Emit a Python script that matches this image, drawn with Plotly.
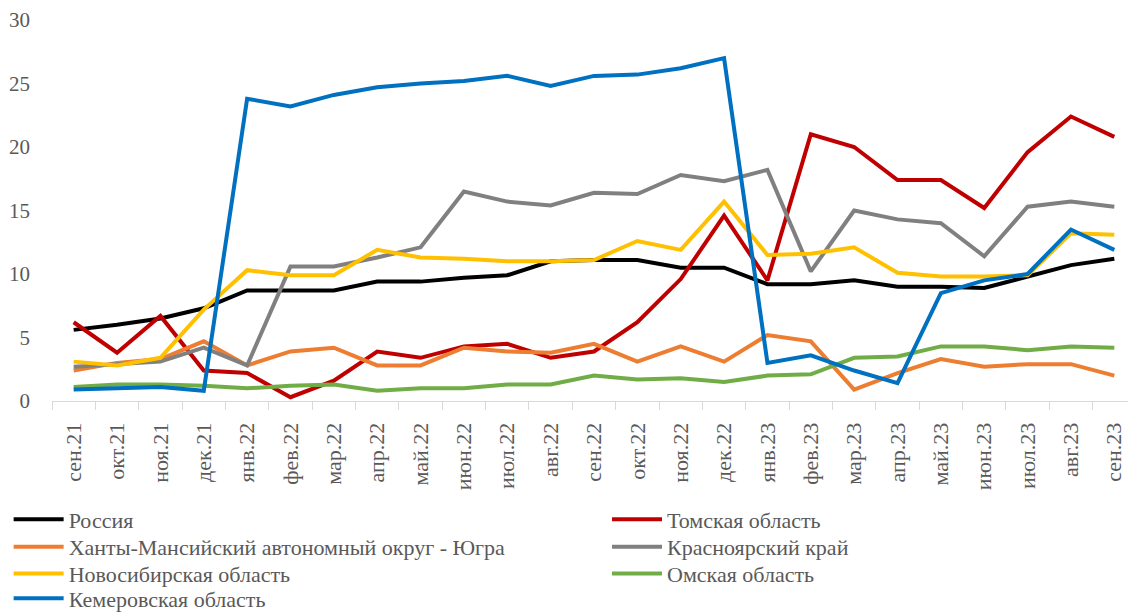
import plotly.graph_objects as go

months = ["сен.21", "окт.21", "ноя.21", "дек.21", "янв.22", "фев.22", "мар.22",
          "апр.22", "май.22", "июн.22", "июл.22", "авг.22", "сен.22", "окт.22",
          "ноя.22", "дек.22", "янв.23", "фев.23", "мар.23", "апр.23", "май.23",
          "июн.23", "июл.23", "авг.23", "сен.23"]

russia = [5.6, 6.0, 6.5, 7.3, 8.7, 8.7, 8.7, 9.4, 9.4, 9.7, 9.9, 11.0, 11.1,
          11.1, 10.5, 10.5, 9.2, 9.2, 9.5, 9.0, 9.0, 8.9, 9.8, 10.7, 11.2]
tomsk = [6.2, 3.8, 6.7, 2.4, 2.2, 0.3, 1.6, 3.9, 3.4, 4.3, 4.5, 3.4, 3.9,
         6.2, 9.6, 14.6, 9.5, 21.0, 20.0, 17.4, 17.4, 15.2, 19.6, 22.4, 20.8]
khmao = [2.4, 3.0, 3.3, 4.7, 2.8, 3.9, 4.2, 2.8, 2.8, 4.2, 3.9, 3.8, 4.5,
         3.1, 4.3, 3.1, 5.2, 4.7, 0.9, 2.2, 3.3, 2.7, 2.9, 2.9, 2.0]
krasnoyarsk = [2.7, 2.9, 3.1, 4.2, 2.8, 10.6, 10.6, 11.3, 12.1, 16.5, 15.7, 15.4, 16.4,
               16.3, 17.8, 17.3, 18.2, 10.2, 15.0, 14.3, 14.0, 11.4, 15.3, 15.7, 15.3]
novosib = [3.1, 2.8, 3.4, 7.2, 10.3, 9.9, 9.9, 11.9, 11.3, 11.2, 11.0, 11.0, 11.1,
           12.6, 11.9, 15.7, 11.5, 11.6, 12.1, 10.1, 9.8, 9.8, 9.9, 13.2, 13.1]
omsk = [1.1, 1.3, 1.3, 1.2, 1.0, 1.2, 1.3, 0.8, 1.0, 1.0, 1.3, 1.3, 2.0,
        1.7, 1.8, 1.5, 2.0, 2.1, 3.4, 3.5, 4.3, 4.3, 4.0, 4.3, 4.2]
kemerovo = [0.9, 1.0, 1.1, 0.8, 23.8, 23.2, 24.1, 24.7, 25.0, 25.2, 25.6, 24.8, 25.6,
            25.7, 26.2, 27.0, 3.0, 3.6, 2.4, 1.4, 8.5, 9.5, 10.0, 13.5, 11.9]

names = ["Россия", "Томская область", "Ханты-Мансийский автономный округ - Югра",
         "Красноярский край", "Новосибирская область", "Омская область",
         "Кемеровская область"]
values = [russia, tomsk, khmao, krasnoyarsk, novosib, omsk, kemerovo]
colors = ["#000000", "#C00000", "#ED7D31", "#808080", "#FFC000", "#70AD47", "#0070C0"]

font = "Liberation Serif, Times New Roman, serif"

# legend laid out as two columns, one small legend per entry so that
# row spacing can be kept tight like the original
col_x = [-0.04, 0.512]
row_y = [-0.311, -0.383, -0.453, -0.518]

fig = go.Figure()
legends = {}
for i, (name, vals, color) in enumerate(zip(names, values, colors)):
    key = "legend" if i == 0 else f"legend{i + 1}"
    fig.add_trace(go.Scatter(x=months, y=vals, name=name, mode="lines", legend=key,
                             line=dict(color=color, width=4)))
    legends[key] = dict(x=col_x[i % 2], y=row_y[i // 2], xanchor="left", yanchor="middle",
                        font=dict(family=font, size=22, color="#595959"),
                        itemwidth=50, bgcolor="rgba(0,0,0,0)")

fig.update_layout(
    width=1128, height=605,
    showlegend=True,
    paper_bgcolor="white", plot_bgcolor="white",
    margin=dict(l=44, r=0, t=12, b=212, autoexpand=False),
    font=dict(family=font, color="#595959"),
    xaxis=dict(type="category", range=[-0.5, 24.5], showgrid=False,
               showline=True, linecolor="#D9D9D9", linewidth=1,
               ticks="outside", tickson="boundaries", ticklen=8, tickcolor="#D9D9D9",
               tickangle=-90, ticklabelstandoff=12,
               tickfont=dict(family=font, size=22, color="#595959")),
    yaxis=dict(range=[0, 30], dtick=5, showgrid=False, zeroline=False,
               showline=False, ticks="", ticklabelstandoff=21,
               tickfont=dict(family=font, size=21, color="#595959")),
    **legends,
)

fig.write_html("out.html")
